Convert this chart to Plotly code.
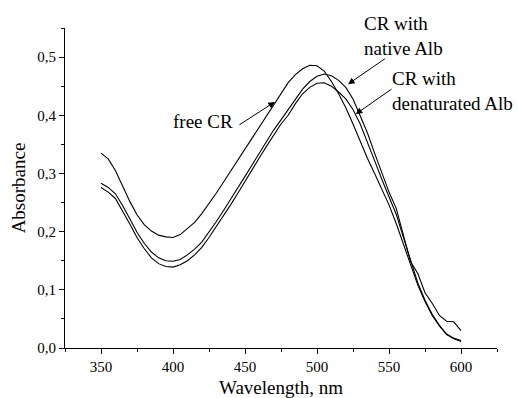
import plotly.graph_objects as go

wavelength = list(range(350, 601, 5))

free_cr = [0.335, 0.325, 0.305, 0.278, 0.252, 0.229, 0.212, 0.201, 0.194, 0.191,
           0.190, 0.195, 0.205, 0.216, 0.231, 0.248, 0.266, 0.285, 0.304, 0.323,
           0.342, 0.361, 0.380, 0.398, 0.418, 0.438, 0.456, 0.470, 0.480, 0.486,
           0.485, 0.476, 0.458, 0.437, 0.413, 0.385, 0.355, 0.326, 0.300, 0.272,
           0.246, 0.214, 0.178, 0.142, 0.108, 0.080, 0.056, 0.038, 0.023, 0.016,
           0.011]

native_alb = [0.283, 0.276, 0.265, 0.245, 0.222, 0.199, 0.180, 0.165, 0.155, 0.150,
              0.149, 0.152, 0.160, 0.170, 0.182, 0.199, 0.217, 0.236, 0.255, 0.275,
              0.295, 0.315, 0.335, 0.355, 0.375, 0.392, 0.410, 0.428, 0.445, 0.458,
              0.467, 0.471, 0.468, 0.460, 0.448, 0.428, 0.400, 0.370, 0.335, 0.300,
              0.268, 0.240, 0.192, 0.148, 0.128, 0.095, 0.077, 0.056, 0.046, 0.045,
              0.030]

denat_alb = [0.276, 0.268, 0.257, 0.236, 0.213, 0.190, 0.171, 0.155, 0.145, 0.140,
             0.139, 0.143, 0.150, 0.160, 0.173, 0.190, 0.208, 0.227, 0.246, 0.266,
             0.287, 0.307, 0.327, 0.347, 0.367, 0.385, 0.400, 0.420, 0.437, 0.448,
             0.455, 0.456, 0.450, 0.440, 0.428, 0.410, 0.385, 0.355, 0.322, 0.290,
             0.260, 0.230, 0.190, 0.150, 0.112, 0.082, 0.058, 0.039, 0.024, 0.017,
             0.013]

x_ticks = [350, 400, 450, 500, 550, 600]
y_ticks = [0.0, 0.1, 0.2, 0.3, 0.4, 0.5]
y_tick_labels = ["0,0", "0,1", "0,2", "0,3", "0,4", "0,5"]

FONT = "Liberation Serif, Times New Roman, serif"

fig = go.Figure()
for name, ys in [("free CR", free_cr), ("CR with native Alb", native_alb),
                 ("CR with denaturated Alb", denat_alb)]:
    fig.add_trace(go.Scatter(x=wavelength, y=ys, mode="lines", name=name,
                             line=dict(color="black", width=1.1)))

ann_font = dict(family=FONT, size=19, color="black")
arrow_style = dict(showarrow=True, arrowhead=2, arrowsize=1.3, arrowwidth=1,
                   arrowcolor="black", axref="x", ayref="y", standoff=0,
                   startstandoff=0)

fig.add_annotation(x=470.7, y=0.423, ax=445.1, ay=0.382, text="", **arrow_style)
fig.add_annotation(x=443, y=0.39, text="free CR", showarrow=False,
                   xanchor="right", yanchor="middle", font=ann_font)

fig.add_annotation(x=521.6, y=0.4535, ax=548.2, ay=0.499, text="", **arrow_style)
fig.add_annotation(x=531.1, y=0.537, text="CR with<br>native Alb", showarrow=False,
                   xanchor="left", yanchor="middle", align="left", font=ann_font)

fig.add_annotation(x=526.9, y=0.402, ax=552.8, ay=0.4467, text="", **arrow_style)
fig.add_annotation(x=550.5, y=0.442, text="CR with<br>denaturated Alb", showarrow=False,
                   xanchor="left", yanchor="middle", align="left", font=ann_font)

fig.update_layout(
    width=518, height=398,
    margin=dict(l=65, r=21, t=28, b=50),
    paper_bgcolor="white", plot_bgcolor="white",
    showlegend=False,
    font=dict(family=FONT, size=15, color="black"),
    xaxis=dict(
        range=[325, 625], tickvals=x_ticks, ticks="outside", ticklen=5,
        tickwidth=1, tickcolor="black", showline=True, linecolor="black",
        linewidth=1, showgrid=False, zeroline=False, automargin=False,
        minor=dict(dtick=25, tick0=325, ticks="outside", ticklen=3,
                   tickcolor="black", tickwidth=1, showgrid=False),
        title=dict(text="Wavelength, nm", font=dict(size=19), standoff=11),
        tickfont=dict(size=15),
    ),
    yaxis=dict(
        range=[0, 0.55], tickvals=y_ticks, ticktext=y_tick_labels,
        ticks="outside", ticklen=5, tickwidth=1, tickcolor="black",
        showline=True, linecolor="black", linewidth=1, showgrid=False,
        zeroline=False, automargin=False,
        minor=dict(dtick=0.05, tick0=0, ticks="outside", ticklen=3,
                   tickcolor="black", tickwidth=1, showgrid=False),
        title=dict(text="Absorbance", font=dict(size=19), standoff=6),
        tickfont=dict(size=15),
    ),
)

fig.write_html("out.html")
